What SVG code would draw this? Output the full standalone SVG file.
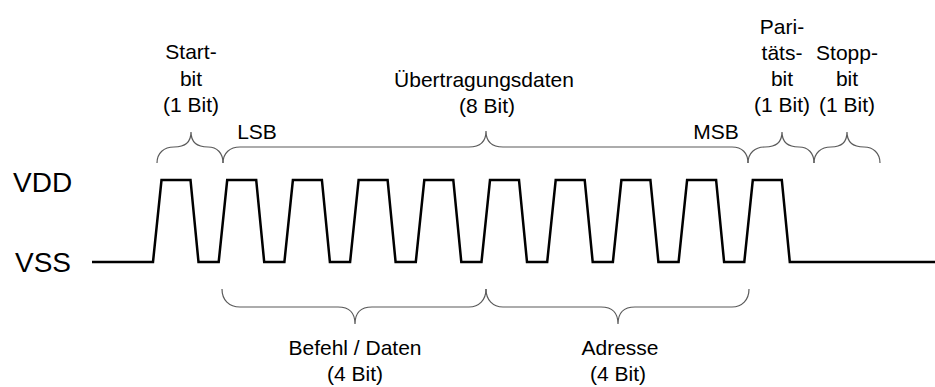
<svg xmlns="http://www.w3.org/2000/svg" width="935" height="387" viewBox="0 0 935 387">
  <style>
    .lbl { font-family: "Liberation Sans", Arial, sans-serif; font-size: 21px; fill: #000; text-anchor: middle; }
    .lvl { font-family: "Liberation Sans", Arial, sans-serif; font-size: 28px; fill: #000; }
    .brace { fill: none; stroke: #5a5a5a; stroke-width: 1.2; }
    .wave { fill: none; stroke: #000; stroke-width: 2.5; stroke-linejoin: miter; }
  </style>
  <rect width="935" height="387" fill="#fff"/>

  <!-- signal levels -->
  <g id="levels">
    <text class="lvl" x="13" y="192">VDD</text>
    <text class="lvl" x="15" y="272">VSS</text>
  </g>

  <!-- serial frame waveform: start bit, 8 data bits, parity bit -->
  <g id="waveform">
    <path class="wave" d="M92,262 H153 L161.5,180 H190.5 L198.5,262
      H218.7 L227.2,180 H256.2 L264.2,262
      H284.4 L292.9,180 H321.9 L329.9,262
      H350.1 L358.6,180 H387.6 L395.6,262
      H415.8 L424.3,180 H453.3 L461.3,262
      H481.5 L490,180 H519 L527,262
      H547.2 L555.7,180 H584.7 L592.7,262
      H612.9 L621.4,180 H650.4 L658.4,262
      H678.6 L687.1,180 H716.1 L724.1,262
      H744.3 L752.8,180 H781.8 L789.8,262
      H935"/>
  </g>

  <!-- upper braces -->
  <g id="connectors">
    <path class="brace" d="M157,163 C157,153 164,147 174,147 C184,147 191,143 191,132 C191,143 198,147 208,147 C217,147 223,153 223,163"/>
    <path class="brace" d="M223,163 C223,153 230,147 240,147 L469,147 C479,147 486,143 486,131 C486,143 493,147 503,147 L732,147 C742,147 748,153 748,163"/>
    <path class="brace" d="M748,163 C748,153 755,147 765,147 C775,147 782,143 782,132 C782,143 789,147 799,147 C808,147 814,153 814,163"/>
    <path class="brace" d="M814,163 C814,153 821,147 831,147 C841,147 847,143 847,132 C847,143 854,147 864,147 C873,147 880,153 880,163"/>
    <!-- lower braces -->
    <path class="brace" d="M222,289 C222,300 229,307 240,307 L338,307 C348,307 355,312 355,324 C355,312 362,307 372,307 L469,307 C479,307 486,300 486,289"/>
    <path class="brace" d="M486,289 C486,300 493,307 503,307 L601,307 C611,307 618,312 618,324 C618,312 625,307 635,307 L732,307 C742,307 749,300 749,289"/>
  </g>

  <g id="startbit">
    <text class="lbl" x="191" y="59">Start-</text>
    <text class="lbl" x="191" y="86">bit</text>
    <text class="lbl" x="191" y="112">(1 Bit)</text>
  </g>

  <g id="data">
    <text class="lbl" x="484" y="87">Übertragungsdaten</text>
    <text class="lbl" x="487" y="113">(8 Bit)</text>
    <text class="lbl" x="257" y="139">LSB</text>
    <text class="lbl" x="716" y="139">MSB</text>
  </g>

  <g id="paritybit">
    <text class="lbl" x="782" y="34">Pari-</text>
    <text class="lbl" x="782" y="60">täts-</text>
    <text class="lbl" x="782" y="86">bit</text>
    <text class="lbl" x="782" y="112">(1 Bit)</text>
  </g>

  <g id="stopbit">
    <text class="lbl" x="847" y="60">Stopp-</text>
    <text class="lbl" x="847" y="86">bit</text>
    <text class="lbl" x="847" y="112">(1 Bit)</text>
  </g>

  <g id="command">
    <text class="lbl" x="355" y="355">Befehl / Daten</text>
    <text class="lbl" x="355" y="381">(4 Bit)</text>
  </g>

  <g id="address">
    <text class="lbl" x="620" y="355">Adresse</text>
    <text class="lbl" x="618" y="381">(4 Bit)</text>
  </g>
</svg>
